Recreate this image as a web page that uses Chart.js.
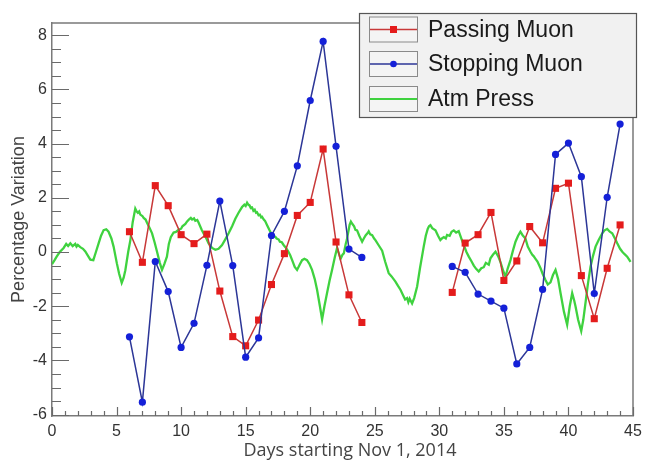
<!DOCTYPE html>
<html>
<head>
<meta charset="utf-8">
<script src="https://cdn.jsdelivr.net/npm/chart.js@4/dist/chart.umd.min.js"></script>
<style>
html,body{margin:0;padding:0;background:#fff;}
#wrap{width:645px;height:462px;position:relative;}
</style>
</head>
<body>
<div id="wrap"><canvas id="c" width="645" height="462"></canvas></div>
<script>
// ---- data ----
const xTicks = [0,5,10,15,20,25,30,35,40,45];
const yTicks = [-6,-4,-2,0,2,4,6,8];

const muonDays1 = [6,7,8,9,10,11,12,13,14,15,16,17,18,19,20,21,22,23,24];
const muonDays2 = [31,32,33,34,35,36,37,38,39,40,41,42,43,44];

const passing1 = [0.75,-0.38,2.45,1.71,0.64,0.31,0.66,-1.44,-3.12,-3.46,-2.51,-1.2,-0.06,1.35,1.83,3.8,0.37,-1.58,-2.6];
const passing2 = [-1.49,0.33,0.64,1.46,-1.05,-0.33,0.94,0.34,2.35,2.54,-0.87,-2.46,-0.6,1.0];

const stopping1 = [-3.13,-5.54,-0.35,-1.46,-3.52,-2.63,-0.49,1.88,-0.5,-3.88,-3.17,0.61,1.5,3.18,5.59,7.77,3.9,0.11,-0.2];
const stopping2 = [-0.53,-0.75,-1.55,-1.81,-2.07,-4.13,-3.52,-1.38,3.6,4.02,2.78,-1.53,2.02,4.72];

// [day, % variation]
const pressReadings = [
 [0.0,-0.45],[0.2,-0.3],[0.36,-0.17],[0.6,0.0],[0.9,0.15],[1.1,0.3],[1.25,0.22],[1.42,0.32],[1.6,0.22],[1.8,0.3],
 [1.9,0.2],[2.0,0.26],[2.19,0.18],[2.4,0.12],[2.58,0.02],[2.8,-0.15],[2.97,-0.28],[3.2,-0.3],[3.4,0.0],[3.61,0.32],
 [3.8,0.6],[4.0,0.81],[4.2,0.84],[4.38,0.75],[4.6,0.5],[4.77,0.2],[5.02,-0.41],[5.2,-0.8],[5.4,-1.14],[5.55,-0.95],
 [5.68,-0.67],[5.9,0.0],[6.07,0.44],[6.25,1.1],[6.45,1.6],[6.55,1.5],[6.65,1.45],[6.75,1.5],[6.84,1.38],[7.0,1.33],
 [7.1,1.26],[7.25,1.2],[7.36,1.08],[7.55,0.9],[7.75,0.69],[7.95,0.35],[8.13,0.02],[8.35,-0.4],[8.52,-0.66],[8.7,-0.45],
 [8.9,-0.17],[9.05,0.3],[9.2,0.55],[9.42,0.72],[9.6,0.74],[9.8,0.82],[10.0,0.86],[10.1,0.95],[10.33,1.04],[10.45,1.12],
 [10.6,1.2],[10.75,1.26],[10.85,1.2],[11.0,1.24],[11.1,1.15],[11.25,1.18],[11.36,1.08],[11.6,0.81],[11.9,0.55],[12.13,0.32],
 [12.4,0.15],[12.65,0.08],[12.9,0.12],[13.17,0.26],[13.4,0.45],[13.68,0.69],[13.95,0.95],[14.2,1.23],[14.45,1.45],[14.72,1.66],
 [14.9,1.75],[15.0,1.7],[15.11,1.82],[15.2,1.75],[15.3,1.72],[15.4,1.62],[15.5,1.64],[15.6,1.52],[15.7,1.56],[15.8,1.45],
 [15.88,1.47],[16.0,1.36],[16.1,1.38],[16.2,1.28],[16.27,1.3],[16.4,1.2],[16.5,1.15],[16.66,0.99],[16.85,0.8],[17.04,0.63],
 [17.15,0.58],[17.3,0.56],[17.4,0.5],[17.56,0.46],[17.65,0.38],[17.8,0.36],[17.95,0.25],[18.08,0.18],[18.2,0.1],[18.3,0.02],
 [18.45,-0.12],[18.6,-0.3],[18.8,-0.55],[18.98,-0.66],[19.2,-0.45],[19.37,-0.3],[19.55,-0.25],[19.75,-0.3],[19.95,-0.45],[20.14,-0.66],
 [20.35,-1.0],[20.53,-1.39],[20.75,-2.0],[20.92,-2.49],[21.1,-2.0],[21.3,-1.52],[21.5,-1.05],[21.69,-0.66],[21.9,-0.2],[22.08,0.15],
 [22.25,-0.1],[22.35,-0.25],[22.5,-0.1],[22.6,-0.05],[22.75,0.3],[22.83,0.44],[23.05,1.0],[23.15,1.12],[23.24,1.05],[23.4,0.95],
 [23.5,0.82],[23.63,0.8],[23.8,0.6],[24.02,0.38],[24.15,0.5],[24.3,0.62],[24.45,0.7],[24.53,0.76],[24.65,0.65],[24.8,0.62],
 [24.95,0.5],[25.05,0.44],[25.3,0.25],[25.57,0.05],[25.8,-0.35],[26.08,-0.78],[26.3,-0.9],[26.6,-1.09],[26.8,-1.25],[26.99,-1.39],
 [27.2,-1.6],[27.35,-1.75],[27.5,-1.7],[27.6,-1.85],[27.7,-1.72],[27.89,-1.9],[28.05,-1.7],[28.28,-1.27],[28.5,-0.6],[28.79,0.2],
 [28.95,0.6],[29.1,0.85],[29.2,0.95],[29.31,0.99],[29.45,0.88],[29.7,0.8],[29.9,0.6],[30.08,0.44],[30.2,0.5],[30.35,0.55],
 [30.5,0.5],[30.6,0.63],[30.8,0.6],[30.95,0.75],[31.12,0.8],[31.3,0.72],[31.5,0.77],[31.7,0.5],[31.89,0.26],[32.1,0.0],
 [32.28,-0.17],[32.5,-0.35],[32.67,-0.5],[32.85,-0.62],[33.05,-0.72],[33.25,-0.6],[33.44,-0.56],[33.6,-0.4],[33.83,-0.47],[33.96,-0.23],
 [34.15,-0.1],[34.35,0.01],[34.55,-0.15],[34.73,-0.36],[34.95,-0.7],[35.12,-0.91],[35.3,-0.6],[35.51,-0.3],[35.7,0.05],[35.9,0.38],
 [36.1,0.6],[36.28,0.75],[36.45,0.62],[36.67,0.5],[36.85,0.2],[37.06,0.01],[37.2,-0.1],[37.3,-0.15],[37.45,-0.25],[37.6,-0.35],
 [37.84,-0.6],[38.0,-0.8],[38.22,-1.03],[38.4,-1.2],[38.61,-1.12],[38.8,-0.85],[39.0,-0.66],[39.2,-1.0],[39.39,-1.52],[39.65,-2.2],
 [39.9,-2.68],[40.1,-2.0],[40.29,-1.52],[40.45,-1.8],[40.55,-2.01],[40.75,-2.5],[40.99,-2.92],[41.15,-2.5],[41.32,-1.88],[41.5,-1.2],
 [41.71,-0.54],[41.9,-0.15],[42.1,0.2],[42.35,0.45],[42.62,0.69],[42.8,0.8],[43.0,0.85],[43.2,0.75],[43.39,0.69],[43.6,0.5],
 [43.78,0.32],[44.0,0.12],[44.17,0.01],[44.35,-0.08],[44.55,-0.17],[44.7,-0.28],[44.81,-0.36]
];

const seriesLabels = ['Passing Muon','Stopping Muon','Atm Press'];
const xTitle = 'Days starting Nov 1, 2014';
const yTitle = 'Percentage Variation';

// ---- build ----
function seg(days, vals){ return days.map((d,i)=>({x:d,y:vals[i]})); }
const gapPoint = {x:27.5, y:null};
const passingData = seg(muonDays1,passing1).concat([gapPoint], seg(muonDays2,passing2));
const stoppingData = seg(muonDays1,stopping1).concat([gapPoint], seg(muonDays2,stopping2));
const pressData = pressReadings.map(p => ({x:p[0], y:p[1]}));

const AREA = {left:52, right:633, top:23, bottom:416};

const decoPlugin = {
  id:'deco',
  afterDraw(chart){
    const ctx = chart.ctx, ca = chart.chartArea;
    const xs = chart.scales.x, ys = chart.scales.y;
    ctx.save();
    // frame top & right
    ctx.strokeStyle = '#7a7a7a'; ctx.lineWidth = 1.5;
    ctx.beginPath();
    ctx.moveTo(ca.left, ca.top); ctx.lineTo(ca.right, ca.top); ctx.lineTo(ca.right, ca.bottom);
    ctx.stroke();
    // inner ticks
    ctx.lineWidth = 1.2; ctx.strokeStyle = '#6a6a6a';
    ctx.beginPath();
    for (let v = -6; v <= ys.max + 1e-9; v += 0.5) {
      const y = Math.round(ys.getPixelForValue(v)) + 0.5;
      const major = Math.abs(v/2 - Math.round(v/2)) < 1e-9;
      ctx.moveTo(ca.left, y); ctx.lineTo(ca.left + (major ? 17 : 9), y);
    }
    for (let v = 0; v <= xs.max + 1e-9; v += 1) {
      const x = Math.round(xs.getPixelForValue(v)) + 0.5;
      const major = v % 5 === 0;
      ctx.moveTo(x, ca.bottom); ctx.lineTo(x, ca.bottom - (major ? 9 : 5));
    }
    ctx.stroke();
    // x axis title
    ctx.fillStyle = '#444';
    ctx.font = '18px "Open Sans", "DejaVu Sans", sans-serif';
    ctx.textAlign = 'center'; ctx.textBaseline = 'middle';
    ctx.fillText(xTitle, 350, 451);
    // legend
    const lx = 359, ly = 13, lw = 277, lh = 104;
    ctx.fillStyle = '#f1f1f1'; ctx.fillRect(lx, ly, lw, lh);
    ctx.strokeStyle = '#555'; ctx.lineWidth = 1.2; ctx.strokeRect(lx+0.5, ly+0.5, lw, lh);
    const rows = [29.5, 64, 99];
    chart.data.datasets.forEach((ds) => {
      const cy = rows[ds.legendOrder];
      ctx.fillStyle = '#f4f4f4';
      ctx.fillRect(369, cy-12, 48, 25);
      ctx.strokeStyle = '#8a8a8a'; ctx.lineWidth = 1;
      ctx.strokeRect(369.5, cy-12.5, 48, 25);
      ctx.strokeStyle = ds.borderColor; ctx.lineWidth = Math.min(ds.borderWidth, 2);
      ctx.beginPath(); ctx.moveTo(370, cy); ctx.lineTo(417, cy); ctx.stroke();
      if (ds.pointRadius > 0) {
        ctx.fillStyle = ds.pointBackgroundColor;
        if (ds.pointStyle === 'rect') { ctx.fillRect(390, cy-3.5, 7, 7); }
        else { ctx.beginPath(); ctx.arc(393.5, cy, 3.3, 0, Math.PI*2); ctx.fill(); }
      }
      ctx.fillStyle = '#1a1a1a';
      ctx.font = '23px "Liberation Sans", Arial, sans-serif';
      ctx.textBaseline = 'middle'; ctx.textAlign = 'left';
      ctx.fillText(ds.label, 428, cy + 1);
    });
    ctx.restore();
  }
};

new Chart(document.getElementById('c'), {
  type: 'line',
  data: {
    datasets: [
      { label: seriesLabels[2], legendOrder: 2, data: pressData, borderColor: '#3fd23f', borderWidth: 2.3,
        pointRadius: 0, tension: 0, order: 3 },
      { label: seriesLabels[0], legendOrder: 0, data: passingData, borderColor: '#c83838', borderWidth: 1.5,
        pointStyle: 'rect', pointRadius: 5, pointBackgroundColor: '#e41c1c', pointBorderWidth: 0,
        pointBorderColor: '#e41c1c', tension: 0, spanGaps: false, order: 2 },
      { label: seriesLabels[1], legendOrder: 1, data: stoppingData, borderColor: '#2c3697', borderWidth: 1.5,
        pointStyle: 'circle', pointRadius: 3.6, pointBackgroundColor: '#1420d8', pointBorderWidth: 0,
        pointBorderColor: '#1420d8', tension: 0, spanGaps: false, order: 1 }
    ]
  },
  options: {
    responsive: false, animation: false, devicePixelRatio: 1,
    layout: { padding: { top: AREA.top, right: 645 - AREA.right, left: 0, bottom: 0 } },
    plugins: { legend: { display: false }, tooltip: { enabled: false } },
    scales: {
      x: {
        type: 'linear', min: 0, max: 45,
        afterFit(s){ s.height = 462 - AREA.bottom; },
        afterBuildTicks(s){ s.ticks = xTicks.map(v => ({value: v})); },
        grid: { display: false, drawTicks: true, tickLength: 4 },
        border: { display: true, color: '#7a7a7a', width: 1.5 },
        ticks: { color: '#333', font: { family: '"Liberation Sans", Arial, sans-serif', size: 16 }, padding: 2, maxRotation: 0, autoSkip: false },
        title: { display: false }
      },
      y: {
        type: 'linear', min: -6.05, max: 8.45,
        afterFit(s){ s.width = AREA.left; },
        afterBuildTicks(s){ s.ticks = yTicks.map(v => ({value: v})); },
        grid: { display: false, drawTicks: false },
        border: { display: true, color: '#7a7a7a', width: 1.5 },
        ticks: { color: '#333', font: { family: '"Liberation Sans", Arial, sans-serif', size: 16 }, padding: 5 },
        title: { display: true, text: yTitle, color: '#444',
          font: { family: '"Liberation Sans", Arial, sans-serif', size: 18 }, padding: { top: 8, bottom: 0 } }
      }
    }
  },
  plugins: [decoPlugin]
});
</script>
</body>
</html>
